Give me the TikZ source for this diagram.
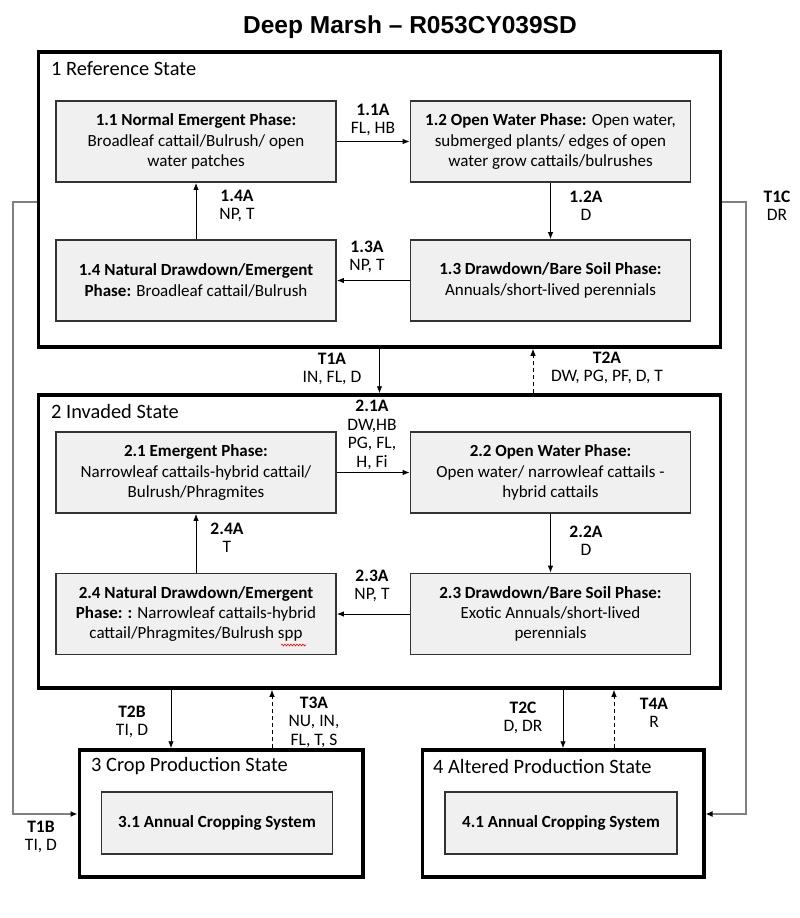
\documentclass[tikz,border=0pt]{standalone}
\usepackage{fontspec}
\setmainfont{Carlito}
\newfontfamily\titlefont{Liberation Sans}[Ligatures=TeX]
\usetikzlibrary{arrows.meta,decorations.pathmorphing}
\begin{document}
\begin{tikzpicture}[x=1pt,y=-1pt,
  statebox/.style={draw=black,line width=3.5pt,minimum width=#1,inner sep=0pt},
  phasebox/.style={draw=black!80,line width=1.8pt,fill=black!6,minimum width=280pt,minimum height=81pt,
     inner sep=0pt,align=center,font=\fontsize{17}{20.3}\selectfont},
  croptbox/.style={draw=black!80,line width=1.8pt,fill=black!6,minimum width=231pt,minimum height=62pt,
     inner sep=0pt,align=center,font=\fontsize{17}{20}\selectfont\bfseries},
  statelabel/.style={anchor=west,inner sep=0pt,font=\fontsize{20.4}{22}\selectfont},
  tlabel/.style={align=center,inner sep=0pt,font=\fontsize{17.5}{18.5}\selectfont},
  arr/.style={line width=0.9pt,-{Latex[length=7pt,width=5.5pt]}},
  darr/.style={arr,dashed,dash pattern=on 4pt off 3pt},
  grayarr/.style={draw=black!50,line width=1.6pt,-{Latex[length=7pt,width=6pt,color=black]}}
]
\useasboundingbox (0,0) rectangle (800,918);
\fill[white] (0,0) rectangle (800,918);

\node[font=\titlefont\bfseries\fontsize{24.5}{27}\selectfont] (title) at (410,27) {Deep Marsh – R053CY039SD};

% state boxes
\node[statebox=682pt,minimum height=295pt] (s1) at (379.5,199.5) {};
\node[statebox=682pt,minimum height=293pt] (s2) at (379.5,541.5) {};
\node[statebox=283.5pt,minimum height=127pt] (s3) at (221,813.5) {};
\node[statebox=281.5pt,minimum height=127pt] (s4) at (563,813.5) {};

\node[statelabel] (s1l) at (51,69) {1 Reference State};
\node[statelabel] (s2l) at (51,411) {2 Invaded State};
\node[statelabel] (s3l) at (91,766) {3 Crop Production State};
\node[statelabel] (s4l) at (433,766) {4 Altered Production State};

% phase boxes state 1
\node[phasebox] (b11) at (196,141.5) {\textbf{1.1 Normal Emergent Phase:}\\Broadleaf cattail/Bulrush/ open\\water patches};
\node[phasebox] (b12) at (550.5,141.5) {\textbf{1.2 Open Water Phase:} Open water,\\submerged plants/ edges of open\\water grow cattails/bulrushes};
\node[phasebox] (b14) at (196,280.5) {\textbf{1.4 Natural Drawdown/Emergent}\\\textbf{Phase:} Broadleaf cattail/Bulrush};
\node[phasebox] (b13) at (550.5,280.5) {\textbf{1.3 Drawdown/Bare Soil Phase:}\\Annuals/short-lived perennials};

% phase boxes state 2
\node[phasebox] (b21) at (196,472.5) {\textbf{2.1 Emergent Phase:}\\Narrowleaf cattails-hybrid cattail/\\Bulrush/Phragmites};
\node[phasebox] (b22) at (550.5,472.5) {\textbf{2.2 Open Water Phase:}\\Open water/ narrowleaf cattails -\\hybrid cattails};
\node[phasebox] (b24) at (196,614) {\textbf{2.4 Natural Drawdown/Emergent}\\\textbf{Phase: :} Narrowleaf cattails-hybrid\\cattail/Phragmites/Bulrush spp};
\node[phasebox] (b23) at (550.5,614) {\textbf{2.3 Drawdown/Bare Soil Phase:}\\Exotic Annuals/short-lived\\perennials};

% crop boxes
\node[croptbox] (b31) at (217,823) {3.1 Annual Cropping System};
\node[croptbox,minimum width=232pt] (b41) at (561,823) {4.1 Annual Cropping System};

% spell-check squiggle
\draw[red,line width=0.6pt,decorate,decoration={snake,amplitude=0.9pt,segment length=3pt}] (281,645) -- (306,645);

% arrows within state 1
\draw[arr] (b11.east) -- (b12.west);
\draw[arr] (b12.south) -- (b13.north);
\draw[arr] (b13.west) -- (b14.east);
\draw[arr] (b14.north) -- (b11.south);
% arrows within state 2
\draw[arr] (b21.east) -- (b22.west);
\draw[arr] (b22.south) -- (b23.north);
\draw[arr] (b23.west) -- (b24.east);
\draw[arr] (b24.north) -- (b21.south);

% transitions
\coordinate (xT2A) at (533,0);
\coordinate (xT2B) at (171,0);
\coordinate (xT3A) at (272,0);
\coordinate (xT2C) at (563,0);
\coordinate (xT4A) at (614,0);
\draw[arr] (s1.south) -- (s2.north);
\draw[darr] (s2.north -| xT2A) -- (s1.south -| xT2A);
\draw[arr] (s2.south -| xT2B) -- (s3.north -| xT2B);
\draw[darr] (s3.north -| xT3A) -- (s2.south -| xT3A);
\draw[arr] (s2.south -| xT2C) -- (s4.north -| xT2C);
\draw[darr] (s4.north -| xT4A) -- (s2.south -| xT4A);

\coordinate (yT1) at (0,202);
\coordinate (yT1end) at (0,814);
\coordinate (xL) at (13,0);
\coordinate (xR) at (746,0);
\draw[grayarr] (s1.west |- yT1) -- (xL |- yT1) -- (xL |- yT1end) -- (s3.west |- yT1end);
\draw[grayarr] (s1.east |- yT1) -- (xR |- yT1) -- (xR |- yT1end) -- (s4.east |- yT1end);

% labels
\node[tlabel] (l11) at (373,120) {\textbf{1.1A}\\FL, HB};
\node[tlabel] (l12) at (586,206) {\textbf{1.2A}\\D};
\node[tlabel] (l13) at (367,257) {\textbf{1.3A}\\NP, T};
\node[tlabel] (l14) at (237,206) {\textbf{1.4A}\\NP, T};
\node[tlabel] (l21) at (372,435) {\textbf{2.1A}\\DW,HB\\PG, FL,\\H, Fi};
\node[tlabel] (l22) at (586,541) {\textbf{2.2A}\\D};
\node[tlabel] (l23) at (372,586) {\textbf{2.3A}\\NP, T};
\node[tlabel] (l24) at (227,538) {\textbf{2.4A}\\T};
\node[tlabel] (lT1A) at (332,369) {\textbf{T1A}\\IN, FL, D};
\node[tlabel] (lT2A) at (607,368) {\textbf{T2A}\\DW, PG, PF, D, T};
\node[tlabel] (lT1C) at (777,206) {\textbf{T1C}\\DR};
\node[tlabel] (lT1B) at (41,837) {\textbf{T1B}\\TI, D};
\node[tlabel] (lT2B) at (132,722) {\textbf{T2B}\\TI, D};
\node[tlabel] (lT3A) at (314,722) {\textbf{T3A}\\NU, IN,\\FL, T, S};
\node[tlabel] (lT2C) at (523,718) {\textbf{T2C}\\D, DR};
\node[tlabel] (lT4A) at (654,713) {\textbf{T4A}\\R};
\end{tikzpicture}
\end{document}
